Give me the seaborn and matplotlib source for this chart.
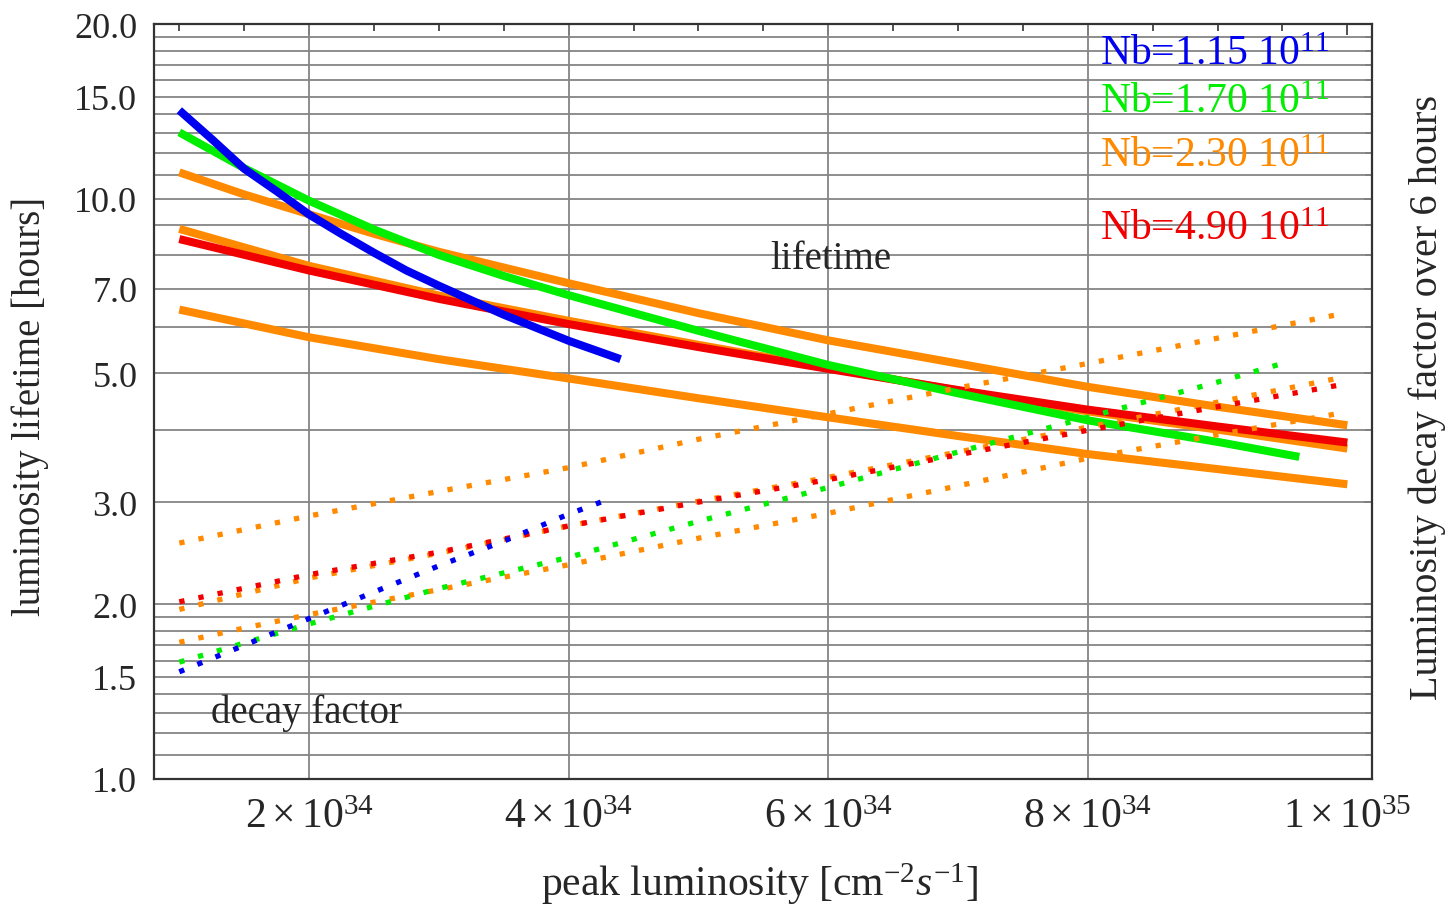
import numpy as np
import pandas as pd
import matplotlib
matplotlib.use("Agg")
import matplotlib.pyplot as plt
from matplotlib.ticker import FixedLocator, FixedFormatter, NullFormatter
import seaborn as sns

# ---------------- data (x in units of 1e34 cm^-2 s^-1) ----------------
# luminosity lifetime [hours] (solid lines)
blue_life_x = [1.0, 1.25, 1.5, 1.75, 2.0, 2.25, 2.5, 2.75, 3.0, 3.5, 4.0, 4.4]
blue_life_y = [14.2, 12.67, 11.26, 10.3, 9.39, 8.69, 8.07, 7.52, 7.08, 6.31, 5.69, 5.29]

green_life_x = [1.0, 1.5, 2.0, 2.5, 3.0, 3.5, 4.0, 5.0, 6.0, 7.0, 8.0, 9.0, 9.63]
green_life_y = [13.01, 11.29, 9.92, 8.85, 8.0, 7.36, 6.82, 5.92, 5.17, 4.62, 4.15, 3.81, 3.59]

orange_hi_life_x = [1.0, 1.5, 2.0, 2.5, 3.0, 4.0, 5.0, 6.0, 7.0, 8.0, 9.0, 10.0]
orange_hi_life_y = [11.1, 10.17, 9.4, 8.7, 8.1, 7.15, 6.35, 5.7, 5.2, 4.74, 4.38, 4.07]

orange_mid_life_x = [1.0, 2.0, 3.0, 4.0, 5.0, 6.0, 7.0, 8.0, 9.0, 10.0]
orange_mid_life_y = [8.87, 7.66, 6.81, 6.16, 5.60, 5.11, 4.67, 4.30, 4.00, 3.71]

orange_lo_life_x = [1.0, 2.0, 3.0, 4.0, 5.0, 6.0, 7.0, 8.0, 9.0, 10.0]
orange_lo_life_y = [6.44, 5.77, 5.29, 4.90, 4.53, 4.20, 3.90, 3.63, 3.42, 3.22]

red_life_x = [1.0, 2.0, 3.0, 4.0, 5.0, 6.0, 7.0, 8.0, 9.0, 10.0]
red_life_y = [8.52, 7.52, 6.72, 6.08, 5.55, 5.09, 4.68, 4.33, 4.05, 3.80]

# luminosity decay factor over 6 hours (dotted lines)
blue_decay_x = [1.0, 1.5, 2.0, 2.5, 3.0, 3.5, 4.0, 4.3]
blue_decay_y = [1.53, 1.70, 1.89, 2.10, 2.33, 2.57, 2.86, 3.03]

green_decay_x = [1.0, 2.0, 3.0, 4.0, 5.0, 6.0, 7.0, 8.0, 9.0, 9.5]
green_decay_y = [1.59, 1.85, 2.13, 2.41, 2.78, 3.18, 3.66, 4.2, 4.83, 5.2]

orange_hi_decay_x = [1.0, 2.0, 3.0, 4.0, 5.0, 6.0, 7.0, 8.0, 9.0, 10.0]
orange_hi_decay_y = [2.55, 2.84, 3.13, 3.44, 3.85, 4.26, 4.72, 5.2, 5.75, 6.36]

orange_mid_decay_x = [1.0, 2.0, 3.0, 4.0, 5.0, 6.0, 7.0, 8.0, 9.0, 10.0]
orange_mid_decay_y = [1.96, 2.22, 2.45, 2.73, 3.01, 3.31, 3.66, 4.04, 4.46, 4.94]

orange_lo_decay_x = [1.0, 1.5, 2.0, 3.0, 4.0, 5.0, 6.0, 7.0, 8.0, 9.0, 10.0]
orange_lo_decay_y = [1.72, 1.82, 1.92, 2.12, 2.34, 2.6, 2.87, 3.2, 3.57, 3.92, 4.29]

red_decay_x = [1.0, 2.0, 3.0, 4.0, 5.0, 6.0, 7.0, 8.0, 9.0, 10.0]
red_decay_y = [2.02, 2.25, 2.46, 2.73, 3.0, 3.28, 3.62, 3.99, 4.38, 4.8]

legend_labels = [r"Nb=1.15 $10^{11}$", r"Nb=1.70 $10^{11}$",
                 r"Nb=2.30 $10^{11}$", r"Nb=4.90 $10^{11}$"]

x_tick_values = [2, 4, 6, 8, 10]
x_tick_labels = [r"$2\times10^{34}$", r"$4\times10^{34}$", r"$6\times10^{34}$",
                 r"$8\times10^{34}$", r"$1\times10^{35}$"]
y_tick_values = [1.0, 1.5, 2.0, 3.0, 5.0, 7.0, 10.0, 15.0, 20.0]
y_tick_labels = ["1.0", "1.5", "2.0", "3.0", "5.0", "7.0", "10.0", "15.0", "20.0"]

# ---------------- style ----------------
BLUE = "#0000f0"
GREEN = "#00ee00"
ORANGE = "#ff8a00"
RED = "#f20000"

sns.set_theme(style="white")
plt.rcParams["font.family"] = ["Liberation Serif", "DejaVu Serif"]
plt.rcParams["mathtext.fontset"] = "custom"
plt.rcParams["mathtext.rm"] = "Liberation Serif"
plt.rcParams["mathtext.it"] = "Liberation Serif:italic"
plt.rcParams["mathtext.bf"] = "Liberation Serif:bold"

fig = plt.figure(figsize=(14.49, 9.12), dpi=100)
ax = fig.add_axes([154 / 1449, 1 - 780 / 912, 1218 / 1449, 755 / 912])

E = 1e34
solid = [
    (orange_lo_life_x, orange_lo_life_y, ORANGE),
    (orange_mid_life_x, orange_mid_life_y, ORANGE),
    (orange_hi_life_x, orange_hi_life_y, ORANGE),
    (red_life_x, red_life_y, RED),
    (green_life_x, green_life_y, GREEN),
    (blue_life_x, blue_life_y, BLUE),
]
dotted = [
    (orange_lo_decay_x, orange_lo_decay_y, ORANGE),
    (orange_hi_decay_x, orange_hi_decay_y, ORANGE),
    (orange_mid_decay_x, orange_mid_decay_y, ORANGE),
    (red_decay_x, red_decay_y, RED),
    (green_decay_x, green_decay_y, GREEN),
    (blue_decay_x, blue_decay_y, BLUE),
]

for xs, ys, c in solid:
    df = pd.DataFrame({"x": np.array(xs) * E, "y": ys})
    sns.lineplot(data=df, x="x", y="y", color=c, lw=5.8, ax=ax,
                 sort=False, estimator=None, solid_capstyle="butt",
                 solid_joinstyle="round", zorder=3)
for xs, ys, c in dotted:
    df = pd.DataFrame({"x": np.array(xs) * E, "y": ys})
    sns.lineplot(data=df, x="x", y="y", color=c, lw=3.8, ax=ax,
                 sort=False, estimator=None, linestyle=(0, (1.0, 2.7)),
                 dash_capstyle="butt", zorder=4)

ax.set_yscale("log")
ax.set_xlim(0.805 * E, 10.19 * E)
ax.set_ylim(1.0, 20.0)

# grid lines
y_grid = [round(v, 1) for v in np.arange(1.1, 2.0, 0.1)] + list(range(2, 21))
ax.yaxis.set_major_locator(FixedLocator(y_tick_values))
ax.yaxis.set_major_formatter(FixedFormatter(y_tick_labels))
ax.yaxis.set_minor_locator(FixedLocator(y_grid))
ax.yaxis.set_minor_formatter(NullFormatter())
for v in y_grid:
    if v < 20:
        ax.axhline(v, color="#858585", lw=1.3, zorder=1)
for v in [2, 4, 6, 8]:
    ax.axvline(v * E, color="#858585", lw=1.3, zorder=1)

ax.xaxis.set_major_locator(FixedLocator([v * E for v in x_tick_values]))
ax.xaxis.set_major_formatter(FixedFormatter(x_tick_labels))
ax.xaxis.set_minor_locator(FixedLocator([v * E for v in np.arange(1.0, 10.01, 0.5)]))
ax.xaxis.set_minor_formatter(NullFormatter())

ax.tick_params(axis="both", which="both", direction="in", top=True, right=True,
               color="#333333", width=1.2)
ax.tick_params(axis="x", which="major", length=8, pad=13, labelsize=30)
ax.tick_params(axis="x", which="minor", length=5)
ax.tick_params(axis="y", which="major", length=6, pad=12, labelsize=26)
ax.tick_params(axis="y", which="minor", length=5)
for s in ax.spines.values():
    s.set_color("#333333")
    s.set_linewidth(1.6)

ax.set_xlabel(r"peak luminosity [$\mathrm{cm}^{-2}s^{-1}$]", fontsize=30)
ax.xaxis.set_label_coords(0.4975, -0.108)
ax.set_ylabel("luminosity lifetime [hours]", fontsize=28)
ax.yaxis.set_label_coords(-0.086, 0.495)
fig.text(1427 / 1449, 1 - 397 / 912, "Luminosity decay factor over 6 hours",
         rotation=90, ha="center", va="center", fontsize=29)

ax.text(0.5555, 0.689, "lifetime", transform=ax.transAxes, ha="center",
        va="center", fontsize=28)
ax.text(0.1255, 0.0885, "decay factor", transform=ax.transAxes, ha="center",
        va="center", fontsize=28)

for lab, c, yy in zip(legend_labels, [BLUE, GREEN, ORANGE, RED],
                      [0.947, 0.884, 0.812, 0.715]):
    ax.text(0.7767, yy, lab, transform=ax.transAxes, color=c, fontsize=30,
            ha="left", va="baseline")

fig.savefig("out.png", dpi=100, facecolor="white")
